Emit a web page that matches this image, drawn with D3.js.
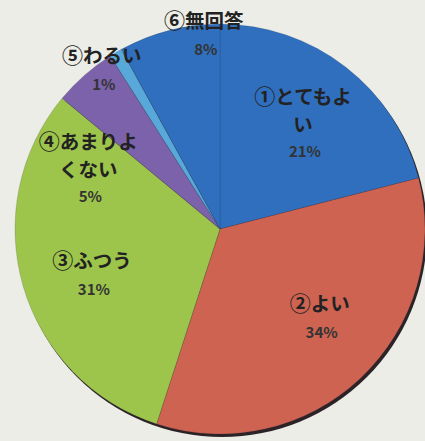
<!DOCTYPE html>
<html>
<head>
<meta charset="utf-8">
<script src="https://cdn.jsdelivr.net/npm/d3@7"></script>
<style>
  html, body { margin: 0; padding: 0; background: #ecede6; }
  svg { display: block; }
  text { font-family: "Noto Sans CJK JP", sans-serif; }
</style>
</head>
<body>
<svg width="425" height="441"></svg>
<script>
// data
var names = ["①とてもよい", "②よい", "③ふつう", "④あまりよくない", "⑤わるい", "⑥無回答"];
var nameLines = [["①とてもよ", "い"], ["②よい"], ["③ふつう"], ["④あまりよ", "くない"], ["⑤わるい"], ["⑥無回答"]];
var values = [21, 34, 31, 5, 1, 8];
var colors = ["#2f6fbe", "#cd6350", "#9dc44b", "#7b62aa", "#58a8d9", "#2f6fbe"];

var width = 425, height = 441;
var cx = 220, cy = 229, radius = 205;

// where each label block starts: [angle in degrees, distance from centre]
var labelAnchor = [[33.6, 150], [129.4, 129], [252.9, 134], [301.2, 154], [324.6, 204], [355.4, 202]];
var lineStep = 28;

var svg = d3.select("svg");

var pie = d3.pie().sort(null).value(function(d) { return d; });
var arc = d3.arc().innerRadius(0).outerRadius(radius);

var g = svg.append("g").attr("transform", "translate(" + cx + "," + cy + ")");

// dark rim on the lower right, like the printed shadow
g.append("circle")
    .attr("cx", 2).attr("cy", 3)
    .attr("r", radius)
    .attr("fill", "#2b2327");

g.selectAll("path.slice")
    .data(pie(values))
    .enter()
    .append("path")
    .attr("class", "slice")
    .attr("d", arc)
    .attr("fill", function(d, i) { return colors[i]; })
    .attr("stroke", "rgba(40,40,60,0.2)")
    .attr("stroke-width", 0.8);

// labels
var labels = svg.append("g").attr("transform", "translate(" + cx + "," + cy + ")");

var circled = /^[①-⑳]/;

values.forEach(function(v, i) {
    var a = labelAnchor[i];
    var p = d3.pointRadial(a[0] * Math.PI / 180, a[1]);
    var n = nameLines[i].length;
    nameLines[i].forEach(function(line, j) {
        var t = labels.append("text")
            .attr("x", p[0])
            .attr("y", p[1] + j * lineStep)
            .attr("text-anchor", "middle")
            .attr("font-size", 19.5)
            .attr("font-weight", 700)
            .attr("fill", "#222");
        if (circled.test(line)) {
            // the printed circled numbers are as large as the kana
            t.append("tspan").attr("font-size", 21).text(line.charAt(0));
            t.append("tspan").text(line.slice(1));
        } else {
            t.text(line);
        }
    });
    labels.append("text")
        .attr("x", p[0] + 2)
        .attr("y", p[1] + (n - 1) * lineStep + (n > 1 ? 25 : 27))
        .attr("text-anchor", "middle")
        .attr("font-size", 15)
        .attr("font-weight", 700)
        .attr("fill", "#333")
        .text(v + "%");
});
</script>
</body>
</html>
